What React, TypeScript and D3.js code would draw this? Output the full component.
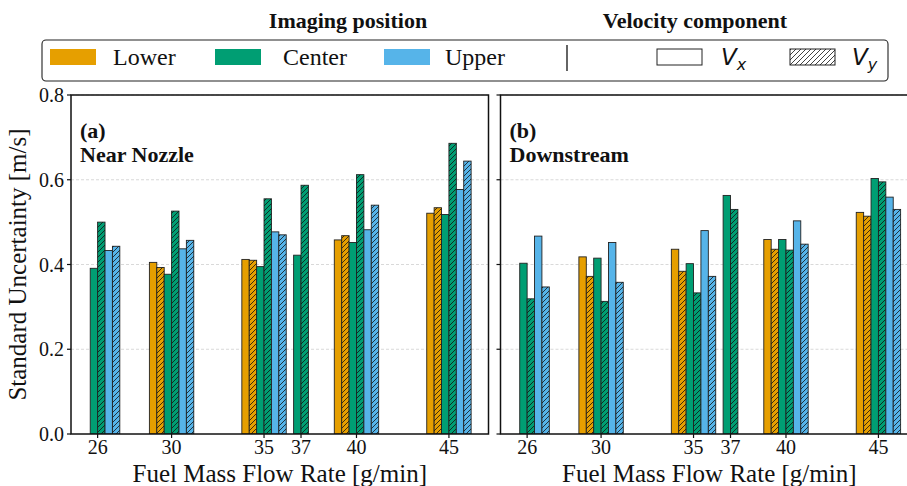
import React from "react";
import * as d3 from "d3";

// Fuel mass flow rates (g/min) at which measurements were taken
const flowRates = [26, 30, 35, 37, 40, 45];
const xTicks = [26, 30, 35, 37, 40, 45];
const yTicks = [0.0, 0.2, 0.4, 0.6, 0.8];

// Imaging positions and their colours
const positionNames = ["Lower", "Center", "Upper"];
const positionColors = ["#E69F00", "#009E73", "#56B4E9"];

// (a) Near nozzle: standard uncertainty [m/s]
const nearLowerVx = [null, 0.405, 0.412, null, 0.458, 0.521];
const nearLowerVy = [null, 0.393, 0.41, null, 0.468, 0.534];
const nearCenterVx = [0.391, 0.377, 0.395, 0.422, 0.452, 0.518];
const nearCenterVy = [0.5, 0.526, 0.555, 0.587, 0.612, 0.686];
const nearUpperVx = [0.433, 0.437, 0.477, null, 0.482, 0.577];
const nearUpperVy = [0.443, 0.457, 0.47, null, 0.54, 0.644];

// (b) Downstream: standard uncertainty [m/s]
const downLowerVx = [null, 0.418, 0.436, null, 0.459, 0.523];
const downLowerVy = [null, 0.372, 0.384, null, 0.436, 0.514];
const downCenterVx = [0.403, 0.415, 0.402, 0.563, 0.459, 0.603];
const downCenterVy = [0.319, 0.313, 0.333, 0.53, 0.434, 0.595];
const downUpperVx = [0.467, 0.452, 0.48, null, 0.503, 0.559];
const downUpperVy = [0.347, 0.358, 0.372, null, 0.448, 0.53];

type Series = { pos: number; comp: "x" | "y"; values: (number | null)[] };

const panels = [
  {
    tag: "(a)",
    title: "Near Nozzle",
    series: [
      { pos: 0, comp: "x", values: nearLowerVx },
      { pos: 0, comp: "y", values: nearLowerVy },
      { pos: 1, comp: "x", values: nearCenterVx },
      { pos: 1, comp: "y", values: nearCenterVy },
      { pos: 2, comp: "x", values: nearUpperVx },
      { pos: 2, comp: "y", values: nearUpperVy },
    ] as Series[],
  },
  {
    tag: "(b)",
    title: "Downstream",
    series: [
      { pos: 0, comp: "x", values: downLowerVx },
      { pos: 0, comp: "y", values: downLowerVy },
      { pos: 1, comp: "x", values: downCenterVx },
      { pos: 1, comp: "y", values: downCenterVy },
      { pos: 2, comp: "x", values: downUpperVx },
      { pos: 2, comp: "y", values: downUpperVy },
    ] as Series[],
  },
];

const W = 907;
const H = 486;
const barW = 0.4;
const serif = "'Liberation Serif', 'Times New Roman', serif";
const mathFont = "'DejaVu Sans', sans-serif";

const plotTop = 95;
const plotBottom = 434;
const panelLefts = [71, 500.5];
const panelWidth = 417.5;
const xDomain: [number, number] = [24.56, 47.14];

function Panel({ idx }: { idx: number }) {
  const p = panels[idx];
  const left = panelLefts[idx];
  const right = left + panelWidth;
  const x = d3.scaleLinear().domain(xDomain).range([left, right]);
  const y = d3.scaleLinear().domain([0, 0.8]).range([plotBottom, plotTop]);
  const clipId = `clip-${idx}`;

  return (
    <g>
      <defs>
        <clipPath id={clipId}>
          <rect x={left} y={plotTop} width={panelWidth} height={plotBottom - plotTop} />
        </clipPath>
      </defs>
      {/* grid */}
      {yTicks.slice(1).map((t) => (
        <line
          key={t}
          x1={left}
          x2={right}
          y1={y(t)}
          y2={y(t)}
          stroke="#cfcfcf"
          strokeWidth={0.8}
          strokeDasharray="3,2"
        />
      ))}
      {/* bars */}
      <g clipPath={`url(#${clipId})`}>
        {p.series.map((s, si) =>
          s.values.map((v, i) => {
            if (v == null) return null;
            const offset = (si - 2.5) * barW;
            const x0 = x(flowRates[i] + offset - barW / 2);
            const x1 = x(flowRates[i] + offset + barW / 2);
            return (
              <g key={`${si}-${i}`}>
                <rect
                  x={x0}
                  y={y(v)}
                  width={x1 - x0}
                  height={y(0) - y(v)}
                  fill={positionColors[s.pos]}
                  stroke="#222"
                  strokeWidth={0.9}
                />
                {s.comp === "y" && (
                  <rect
                    x={x0}
                    y={y(v)}
                    width={x1 - x0}
                    height={y(0) - y(v)}
                    fill="url(#hatch)"
                    stroke="none"
                  />
                )}
              </g>
            );
          })
        )}
      </g>
      {/* spines */}
      <rect
        x={left}
        y={plotTop}
        width={panelWidth}
        height={plotBottom - plotTop}
        fill="none"
        stroke="#111"
        strokeWidth={1.5}
      />
      {/* y ticks */}
      {yTicks.map((t) => (
        <g key={t}>
          <line x1={left - 4} x2={left} y1={y(t)} y2={y(t)} stroke="#111" strokeWidth={1.2} />
          {idx === 0 && (
            <text
              x={left - 7}
              y={y(t)}
              dy="0.35em"
              textAnchor="end"
              fontFamily={serif}
              fontSize={20}
              fill="#111"
            >
              {d3.format(".1f")(t)}
            </text>
          )}
        </g>
      ))}
      {/* x ticks */}
      {xTicks.map((t) => (
        <g key={t}>
          <line x1={x(t)} x2={x(t)} y1={plotBottom} y2={plotBottom + 4} stroke="#111" strokeWidth={1.2} />
          <text
            x={x(t)}
            y={plotBottom + 20}
            textAnchor="middle"
            fontFamily={serif}
            fontSize={20}
            fill="#111"
          >
            {t}
          </text>
        </g>
      ))}
      <text
        x={(left + right) / 2}
        y={482}
        textAnchor="middle"
        fontFamily={serif}
        fontSize={25}
        fill="#111"
      >
        Fuel Mass Flow Rate [g/min]
      </text>
      <text x={left + 9} y={138} fontFamily={serif} fontWeight="bold" fontSize={22} fill="#111">
        {p.tag}
      </text>
      <text x={left + 9} y={162} fontFamily={serif} fontWeight="bold" fontSize={22} fill="#111">
        {p.title}
      </text>
    </g>
  );
}

function Legend() {
  const posX = [50, 215, 384];
  const textX = [113, 283, 445];
  const rowY = 57;
  return (
    <g>
      <text x={348} y={28} textAnchor="middle" fontFamily={serif} fontWeight="bold" fontSize={22} fill="#111">
        Imaging position
      </text>
      <text x={695} y={28} textAnchor="middle" fontFamily={serif} fontWeight="bold" fontSize={22} fill="#111">
        Velocity component
      </text>
      <rect x={42} y={40} width={846} height={41} rx={4} fill="#fff" stroke="#222" strokeWidth={1.1} />
      {positionNames.map((n, i) => (
        <g key={n}>
          <rect x={posX[i]} y={rowY - 8} width={46} height={16} fill={positionColors[i]} />
          <text x={textX[i]} y={rowY} dy="0.35em" fontFamily={serif} fontSize={24} fill="#111">
            {n}
          </text>
        </g>
      ))}
      <line x1={567} x2={567} y1={45} y2={71} stroke="#111" strokeWidth={1.3} />
      <rect x={657} y={rowY - 8} width={45} height={16} fill="#fff" stroke="#222" strokeWidth={1} />
      <text x={721} y={rowY} dy="0.35em" fontFamily={mathFont} fontStyle="italic" fontSize={23} fill="#111">
        V
        <tspan fontSize={16} dy={5}>x</tspan>
      </text>
      <rect x={790} y={rowY - 8} width={45} height={16} fill="#fff" stroke="#222" strokeWidth={1} />
      <rect x={790} y={rowY - 8} width={45} height={16} fill="url(#hatch)" stroke="none" />
      <text x={852} y={rowY} dy="0.35em" fontFamily={mathFont} fontStyle="italic" fontSize={23} fill="#111">
        V
        <tspan fontSize={16} dy={5}>y</tspan>
      </text>
    </g>
  );
}

export default function App() {
  return (
    <svg
      width={W}
      height={H}
      viewBox={`0 0 ${W} ${H}`}
      style={{ position: "absolute", left: 0, top: 0, background: "#fff" }}
    >
      <defs>
        <pattern id="hatch" patternUnits="userSpaceOnUse" width={5} height={5}>
          <path d="M-1,1 l2,-2 M0,5 l5,-5 M4,6 l2,-2" stroke="#111" strokeWidth={0.8} />
        </pattern>
      </defs>
      <rect x={0} y={0} width={W} height={H} fill="#fff" />
      <Panel idx={0} />
      <Panel idx={1} />
      <text
        transform={`translate(26,${(plotTop + plotBottom) / 2}) rotate(-90)`}
        textAnchor="middle"
        fontFamily={serif}
        fontSize={25}
        fill="#111"
      >
        Standard Uncertainty [m/s]
      </text>
      <Legend />
    </svg>
  );
}
